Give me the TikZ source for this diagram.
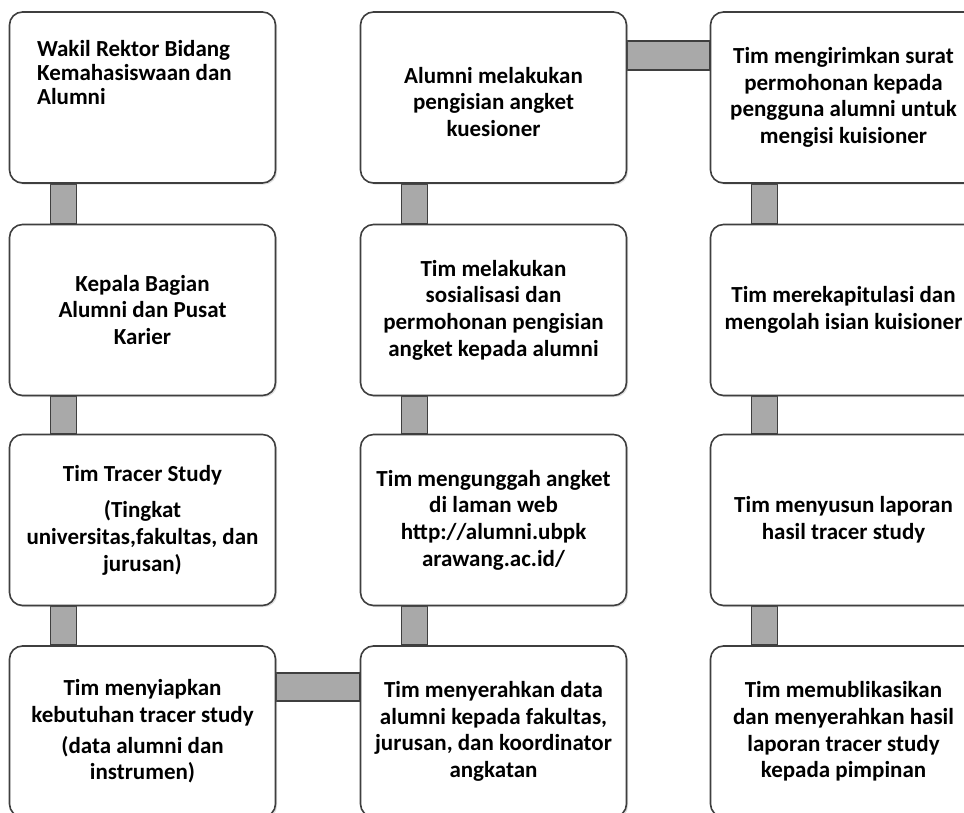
\documentclass[tikz,border=0pt]{standalone}
\usepackage{fontspec}
\setmainfont{Carlito}
\usepackage{tikz}
\usetikzlibrary{calc, shadows, backgrounds}
\usepackage{xcolor}

\definecolor{boxline}{HTML}{3F3F3F}
\definecolor{barfill}{HTML}{A9A9A9}

\begin{document}
\begin{tikzpicture}[x=0.5pt,y=-0.5pt,
  stepbox/.style={draw=boxline, line width=0.8pt, fill=white, rounded corners=6.5pt,
    minimum width=133pt, minimum height=85.5pt, inner sep=2pt, align=center,
    font=\fontsize{11.5pt}{13.3pt}\selectfont\bfseries,
    drop shadow={shadow xshift=0.8pt, shadow yshift=-0.8pt, opacity=0.25}},
  bar/.style={draw=boxline, line width=0.75pt, fill=barfill}]

\useasboundingbox (0,0) rectangle (964,813);
\clip (0,0) rectangle (964,813);

% First column
\node[stepbox] (wakil) at (142.5,97.5) {};
\node[anchor=north west, inner sep=0pt, align=left, font=\fontsize{11.5pt}{12pt}\selectfont\bfseries] (wakiltext) at ($(wakil.north west)+(28,29)$) {Wakil Rektor Bidang\\Kemahasiswaan dan\\Alumni};
\node[stepbox] (kabag) at (142.5,310) {Kepala Bagian\\Alumni dan Pusat\\Karier};
\node[stepbox] (timts) at (142.5,520) {Tim Tracer Study\\[5pt](Tingkat\\universitas,fakultas, dan\\jurusan)};
\node[stepbox] (siapkan) at (142.5,731.5) {Tim menyiapkan\\kebutuhan tracer study\\[2pt](data alumni dan\\instrumen)};

% Second column
\node[stepbox] (isiangket) at (493.5,97.5) {\\[-1pt]Alumni melakukan\\pengisian angket\\kuesioner};
\node[stepbox] (sosialisasi) at (493.5,310) {Tim melakukan\\sosialisasi dan\\permohonan pengisian\\angket kepada alumni};
\node[stepbox] (unggah) at (493.5,520) {Tim mengunggah angket\\di laman web\\http://alumni.ubpk\\arawang.ac.id/};
\node[stepbox] (serahkan) at (493.5,731.5) {Tim menyerahkan data\\alumni kepada fakultas,\\jurusan, dan koordinator\\angkatan};

% Third column
\node[stepbox] (kirimsurat) at (843.5,97.5) {Tim mengirimkan surat\\permohonan kepada\\pengguna alumni untuk\\mengisi kuisioner};
\node[stepbox] (rekap) at (843.5,310) {Tim merekapitulasi dan\\mengolah isian kuisioner};
\node[stepbox] (susun) at (843.5,520) {Tim menyusun laporan\\hasil tracer study};
\node[stepbox] (publikasi) at (843.5,731.5) {Tim memublikasikan\\dan menyerahkan hasil\\laporan tracer study\\kepada pimpinan};

% Connecting bars
\begin{scope}[on background layer]
\foreach \a/\b in {wakil/kabag, kabag/timts, timts/siapkan, isiangket/sosialisasi, sosialisasi/unggah, unggah/serahkan, kirimsurat/rekap, rekap/susun, susun/publikasi}
  \draw[bar] ($(\a.south west)+(42,0)$) rectangle ($(\b.north west)+(68,0)$);
\draw[bar] ($(siapkan.north east)+(0,28)$) rectangle ($(serahkan.north west)+(0,56)$);
\draw[bar] ($(isiangket.north east)+(0,30)$) rectangle ($(kirimsurat.north west)+(0,59)$);
\end{scope}

\end{tikzpicture}
\end{document}
